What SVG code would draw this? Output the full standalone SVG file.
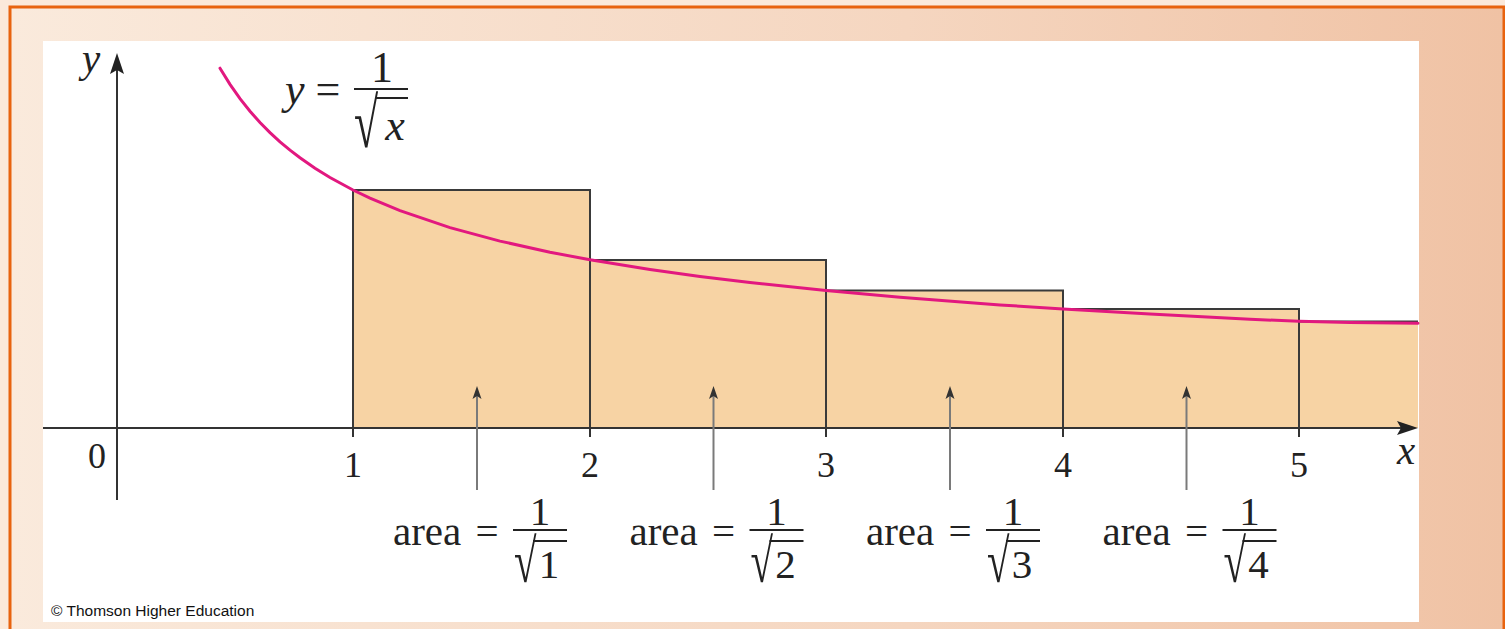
<svg xmlns="http://www.w3.org/2000/svg" width="1505" height="629" viewBox="0 0 1505 629">
  <defs>
    <linearGradient id="bg" x1="0" y1="0" x2="1" y2="0">
      <stop offset="0" stop-color="#faeadc"/>
      <stop offset="0.6" stop-color="#f5d6c0"/>
      <stop offset="1" stop-color="#f0c2a4"/>
    </linearGradient>
    <style>
      .ax { stroke: #333; stroke-width: 2; fill: none; }
      .edge { stroke: #3a3a3a; stroke-width: 2; fill: none; }
      .ptr { stroke: #7a7a7a; stroke-width: 2; fill: none; }
      .ptrh { fill: #333; }
      .bar { stroke: #222; stroke-width: 1.8; }
      .t { font-family: "Liberation Serif", "Times New Roman", serif; fill: #222; }
      .tick { font-size: 36px; text-anchor: middle; }
      .lab { font-size: 41px; }
      .eq { font-size: 44px; }
      .it { font-style: italic; }
      .mid { text-anchor: middle; }
    </style>
  </defs>

  <!-- background -->
  <rect x="0" y="0" width="1505" height="629" fill="#fbe9da"/>
  <rect x="10" y="7" width="1494" height="640" fill="url(#bg)" stroke="#e8630e" stroke-width="3"/>
  <rect x="43" y="41" width="1376" height="581" fill="#ffffff"/>

  <!-- rectangles -->
  <g id="rectangles">
    <path d="M353,428 V190 H590 V260 H826 V290.6 H1063 V309 H1299 V321.6 H1418 V428 Z" fill="#f7d3a4"/>
    <path class="edge" d="M353,428 V190 H590 V428 M590,260 H826 V428 M826,290.6 H1063 V428 M1063,309 H1299 V428 M1299,321.6 H1418"/>
  </g>

  <!-- axes -->
  <g id="axes">
    <line class="ax" x1="117" y1="500" x2="117" y2="66"/>
    <path d="M117,53 L124,74 L117,70 L110,74 Z" fill="#222"/>
    <line class="ax" x1="43" y1="428" x2="1405" y2="428"/>
    <path d="M1418,428 L1397,421 L1401,428 L1397,435 Z" fill="#222"/>
    <path class="ax" d="M353,428 V437 M590,428 V437 M826,428 V437 M1063,428 V437 M1299,428 V437"/>
  </g>

  <!-- curve -->
  <g id="curve">
    <polyline fill="none" stroke="#e2187f" stroke-width="3" stroke-linecap="round" points="220,68.2 230,84.4 240,98.7 250,111.2 260,122.5 270,132.6 280,141.8 290,150.1 300,157.8 315,168.2 330,177.5 353,190 370,198.1 400,210.6 450,227.6 500,241.1 550,252.2 590,259.8 650,269.5 700,276.5 750,282.6 826,290.6 900,297.2 1000,304.9 1063,309 1150,314.1 1250,319.3 1299,321.3 1350,322.4 1418,323.2"/>
  </g>

  <!-- pointer arrows -->
  <g id="connectors">
    <line class="ptr" x1="477" y1="490" x2="477" y2="396"/>
    <path class="ptrh" d="M477,386 L481.5,399 L477,396 L472.5,399 Z"/>
    <line class="ptr" x1="713.5" y1="490" x2="713.5" y2="396"/>
    <path class="ptrh" d="M713.5,386 L718,399 L713.5,396 L709,399 Z"/>
    <line class="ptr" x1="950" y1="490" x2="950" y2="396"/>
    <path class="ptrh" d="M950,386 L954.5,399 L950,396 L945.5,399 Z"/>
    <line class="ptr" x1="1186.5" y1="490" x2="1186.5" y2="396"/>
    <path class="ptrh" d="M1186.5,386 L1191,399 L1186.5,396 L1182,399 Z"/>
  </g>

  <!-- axis labels -->
  <g id="axis-labels">
    <text class="t lab it mid" x="91" y="72">y</text>
    <text class="t lab it mid" x="1406" y="464">x</text>
    <text class="t tick" x="97" y="468">0</text>
    <text class="t tick" x="353" y="477">1</text>
    <text class="t tick" x="590" y="477">2</text>
    <text class="t tick" x="826" y="477">3</text>
    <text class="t tick" x="1063" y="477">4</text>
    <text class="t tick" x="1299" y="477">5</text>
  </g>

  <!-- equation -->
  <g id="equation">
    <text class="t eq it" x="285" y="104">y</text>
    <text class="t eq mid" x="328" y="104">=</text>
    <line class="bar" x1="354" y1="89" x2="408" y2="89"/>
    <text class="t eq mid" x="382" y="82">1</text>
    <text class="t eq" transform="translate(354,147) scale(1,1.6)">√</text>
    <line class="bar" x1="375" y1="98" x2="408" y2="98"/>
    <text class="t eq it mid" x="395" y="140">x</text>
  </g>

  <!-- area labels -->
  <g id="area-1">
    <text class="t lab" x="393" y="545">area</text>
    <text class="t lab mid" x="487" y="545">=</text>
    <line class="bar" x1="513" y1="530" x2="567" y2="530"/>
    <text class="t lab mid" x="540" y="525">1</text>
    <text class="t lab" transform="translate(514,582) scale(1,1.5)">√</text>
    <line class="bar" x1="533" y1="541" x2="567" y2="541"/>
    <text class="t lab mid" x="549" y="578">1</text>
  </g>
  <g id="area-2">
    <text class="t lab" x="629.5" y="545">area</text>
    <text class="t lab mid" x="723.5" y="545">=</text>
    <line class="bar" x1="749.5" y1="530" x2="803.5" y2="530"/>
    <text class="t lab mid" x="776.5" y="525">1</text>
    <text class="t lab" transform="translate(750.5,582) scale(1,1.5)">√</text>
    <line class="bar" x1="769.5" y1="541" x2="803.5" y2="541"/>
    <text class="t lab mid" x="785.5" y="578">2</text>
  </g>
  <g id="area-3">
    <text class="t lab" x="866" y="545">area</text>
    <text class="t lab mid" x="960" y="545">=</text>
    <line class="bar" x1="986" y1="530" x2="1040" y2="530"/>
    <text class="t lab mid" x="1013" y="525">1</text>
    <text class="t lab" transform="translate(987,582) scale(1,1.5)">√</text>
    <line class="bar" x1="1006" y1="541" x2="1040" y2="541"/>
    <text class="t lab mid" x="1022" y="578">3</text>
  </g>
  <g id="area-4">
    <text class="t lab" x="1102.5" y="545">area</text>
    <text class="t lab mid" x="1196.5" y="545">=</text>
    <line class="bar" x1="1222.5" y1="530" x2="1276.5" y2="530"/>
    <text class="t lab mid" x="1249.5" y="525">1</text>
    <text class="t lab" transform="translate(1223.5,582) scale(1,1.5)">√</text>
    <line class="bar" x1="1242.5" y1="541" x2="1276.5" y2="541"/>
    <text class="t lab mid" x="1258.5" y="578">4</text>
  </g>

  <text x="51" y="616" font-family="'Liberation Sans', Arial, sans-serif" font-size="15.5" fill="#111">© Thomson Higher Education</text>
</svg>
